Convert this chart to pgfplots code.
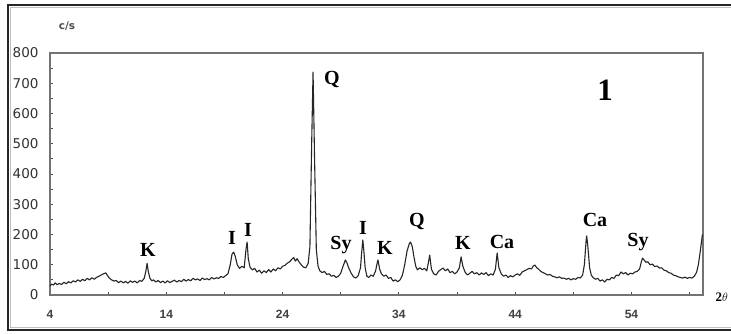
\documentclass[border=0pt]{standalone}
\usepackage{pgfplots}
\pgfplotsset{compat=1.18}
\usepackage{fontspec}
\setmainfont{Liberation Serif}
\setsansfont{DejaVu Sans}
\newfontfamily\xlab{Liberation Sans}
\begin{document}
\begin{tikzpicture}[x=1pt,y=1pt]
\useasboundingbox (0,0) rectangle (731,334);
\fill[white] (0,0) rectangle (731,334);
\draw[black!85, line width=2.2pt] (745,4) -- (8,4) -- (8,329) -- (745,329);
\draw[black!25, line width=1.2pt] (745,6.8) -- (10.8,6.8) -- (10.8,326.2) -- (745,326.2);
\begin{axis}[at={(50pt,39pt)}, anchor=south west, width=653pt, height=242pt, scale only axis,
  xmin=4, xmax=60.15, ymin=0, ymax=800,
  axis line style={black!55, line width=1.4pt},
  xtick={4,9,...,59}, xticklabels={4,,14,,24,,34,,44,,54,},
  ytick={0,100,...,800}, minor ytick={50,150,...,750},
  tick align=inside, major tick length=3pt, minor tick length=3pt,
  tick style={black!70, line width=0.8pt},
  xtick pos=lower, ytick pos=left,
  /pgf/number format/assume math mode=true,
  xticklabel style={font=\xlab\bfseries\fontsize{12}{12}\selectfont, text=black!75, yshift=-12pt},
  yticklabel style={font=\sffamily\fontsize{13.5}{13.5}\selectfont, text=black!80, xshift=-8pt},
  clip=false]
\addplot[black!85, line width=1.1pt, line join=round] coordinates {
(4.0,30) (4.15,36) (4.3,33) (4.45,40) (4.6,34) (4.8,38) (5.0,35) (5.2,42) (5.4,37) (5.6,44)
(5.8,40) (6.0,47) (6.2,43) (6.4,50) (6.6,45) (6.8,52) (7.0,47) (7.2,55) (7.4,50) (7.6,57)
(7.8,52) (8.0,58) (8.2,62) (8.4,66) (8.6,70) (8.8,73) (8.95,64) (9.1,56) (9.3,50) (9.5,46)
(9.7,48) (9.9,41) (10.1,46) (10.3,40) (10.5,45) (10.7,39) (10.9,47) (11.1,42) (11.3,46) (11.5,40)
(11.7,48) (11.9,45) (12.1,55) (12.25,80) (12.35,105) (12.45,78) (12.6,55) (12.75,47) (12.9,50) (13.1,43)
(13.3,48) (13.5,41) (13.7,46) (13.9,40) (14.1,47) (14.3,41) (14.5,45) (14.7,49) (14.9,43) (15.1,48)
(15.3,44) (15.5,52) (15.7,46) (15.9,51) (16.1,47) (16.3,55) (16.5,50) (16.7,53) (16.9,48) (17.1,56)
(17.3,51) (17.5,54) (17.7,50) (17.9,58) (18.1,53) (18.3,57) (18.5,55) (18.7,61) (18.9,58) (19.1,64)
(19.3,70) (19.5,100) (19.65,135) (19.8,142) (19.95,125) (20.1,100) (20.3,88) (20.5,95) (20.7,90) (20.85,150)
(20.95,175) (21.05,120) (21.2,92) (21.4,83) (21.6,88) (21.8,76) (22.0,82) (22.2,72) (22.4,80) (22.6,74)
(22.8,84) (23.0,76) (23.2,86) (23.4,80) (23.6,90) (23.8,86) (24.0,95) (24.2,98) (24.4,105) (24.6,110)
(24.8,118) (24.95,124) (25.1,112) (25.25,120) (25.4,110) (25.6,100) (25.8,92) (26.0,90) (26.2,105) (26.35,160)
(26.5,500) (26.62,737) (26.75,450) (26.9,150) (27.05,95) (27.2,80) (27.4,74) (27.6,78) (27.8,68) (28.0,70)
(28.2,62) (28.4,65) (28.6,58) (28.8,62) (29.0,72) (29.2,95) (29.4,116) (29.55,105) (29.7,88) (29.9,72)
(30.1,60) (30.3,56) (30.5,64) (30.7,90) (30.8,140) (30.9,182) (31.0,140) (31.1,90) (31.25,62) (31.4,58)
(31.6,66) (31.8,62) (32.0,80) (32.1,100) (32.2,116) (32.35,85) (32.5,70) (32.7,62) (32.9,66) (33.1,55)
(33.3,58) (33.5,46) (33.7,50) (33.9,44) (34.1,50) (34.3,65) (34.5,100) (34.7,145) (34.9,170) (35.0,175)
(35.15,160) (35.3,125) (35.45,95) (35.6,83) (35.8,90) (36.0,84) (36.2,88) (36.4,80) (36.55,110) (36.65,132)
(36.8,85) (37.0,70) (37.2,66) (37.4,78) (37.6,84) (37.8,89) (38.0,80) (38.2,86) (38.4,74) (38.6,78)
(38.8,70) (39.0,76) (39.2,90) (39.35,126) (39.5,95) (39.7,75) (39.9,66) (40.1,72) (40.3,78) (40.5,70)
(40.7,74) (40.9,66) (41.1,73) (41.3,68) (41.5,74) (41.7,64) (41.9,70) (42.1,66) (42.3,85) (42.45,139)
(42.6,90) (42.8,70) (43.0,62) (43.2,66) (43.4,58) (43.6,64) (43.8,60) (44.0,66) (44.2,70) (44.4,65)
(44.6,76) (44.8,80) (45.0,84) (45.2,88) (45.4,86) (45.55,96) (45.7,99) (45.85,90) (46.0,86) (46.2,78)
(46.4,74) (46.6,70) (46.8,66) (47.0,68) (47.2,62) (47.4,60) (47.6,57) (47.8,60) (48.0,55) (48.2,56)
(48.4,52) (48.6,55) (48.8,50) (49.0,54) (49.2,52) (49.4,58) (49.6,56) (49.8,66) (49.95,100) (50.1,180)
(50.15,195) (50.25,160) (50.4,90) (50.55,65) (50.7,58) (50.9,52) (51.1,55) (51.3,46) (51.5,50) (51.7,43)
(51.9,52) (52.1,50) (52.3,58) (52.5,55) (52.7,66) (52.9,64) (53.1,76) (53.3,70) (53.5,74) (53.7,66)
(53.9,72) (54.1,70) (54.3,76) (54.5,78) (54.7,86) (54.85,110) (54.95,122) (55.1,115) (55.25,108) (55.4,110)
(55.6,100) (55.8,102) (56.0,94) (56.2,96) (56.4,89) (56.6,90) (56.8,82) (57.0,80) (57.2,74) (57.4,72)
(57.6,66) (57.8,64) (58.0,60) (58.2,58) (58.4,56) (58.6,59) (58.8,55) (59.0,58) (59.2,56) (59.4,62)
(59.6,75) (59.75,100) (59.9,140) (60.0,170) (60.1,200)
};
\end{axis}
\node[font=\sffamily\bfseries\fontsize{10.5}{10.5}\selectfont, text=black!70] at (67,308) {c/s};
\node[font=\bfseries\fontsize{13}{13}\selectfont, anchor=west] at (712,37) {2$\theta$};
\node[font=\bfseries\fontsize{31}{31}\selectfont] at (605,244) {1};
\begin{scope}[every node/.style={font=\bfseries\fontsize{20}{20}\selectfont}]
\node at (332,254) {Q};
\node at (148,84) {K};
\node at (232,96) {I};
\node at (248,104) {I};
\node at (341,89) {Sy};
\node at (363,106) {I};
\node at (385,86) {K};
\node at (417,112) {Q};
\node at (463,91) {K};
\node at (502,92) {Ca};
\node at (595,114) {Ca};
\node at (638,92) {Sy};
\end{scope}
\end{tikzpicture}
\end{document}
